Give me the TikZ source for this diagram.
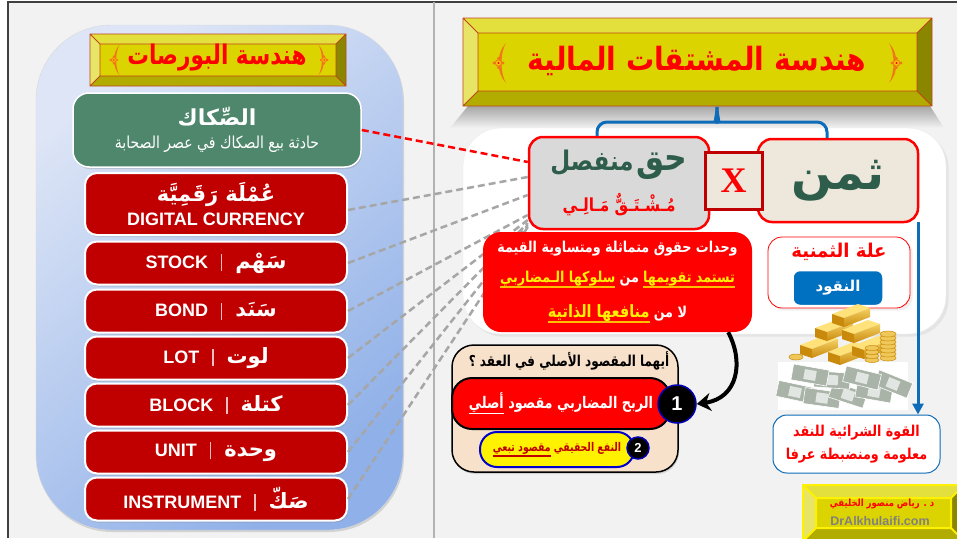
\documentclass[tikz,border=0pt]{standalone}
\usepackage{fontspec}
\setmainfont{Liberation Sans}
\newfontfamily\arabicfont[Script=Arabic]{DejaVu Sans}
\newfontfamily\serifx{Liberation Serif}
\TeXXeTstate=1
\usetikzlibrary{shadows,arrows.meta}

\definecolor{bggray}{HTML}{F2F2F2}
\definecolor{boxred}{HTML}{C00000}
\definecolor{sukukgreen}{HTML}{4F876C}
\definecolor{darkgreen}{HTML}{2E5E4B}
\definecolor{beige}{HTML}{EEE7DC}
\definecolor{haqgray}{HTML}{D9D9D9}
\definecolor{tan}{HTML}{F8E1CB}
\definecolor{linkblue}{HTML}{0E6CB8}
\definecolor{btnblue}{HTML}{0070C0}
\definecolor{ulorange}{HTML}{FFC000}
\definecolor{panelA}{HTML}{DDE5F6}
\definecolor{panelB}{HTML}{8FB0E8}
\definecolor{bevface}{HTML}{DCD400}
\definecolor{bevtop}{HTML}{E3DF3C}
\definecolor{bevleft}{HTML}{E8E466}
\definecolor{bevbot}{HTML}{B2AB00}
\definecolor{bevright}{HTML}{8A8600}
\definecolor{bevline}{HTML}{C0461E}
\definecolor{ornorange}{HTML}{F07818}
\definecolor{dashgray}{HTML}{A6A6A6}
\definecolor{goldA}{HTML}{FFE27A}
\definecolor{goldB}{HTML}{C98A0C}
\definecolor{billgreen}{HTML}{8C9A8A}

% arabic box (plain and narrowed), font size, underline, bar between the two names
\newcommand\ar[1]{\hbox{\arabicfont#1}}
\newcommand\arx[2]{\scalebox{#1}[1]{\ar{#2}}}
\newcommand\fs[1]{\fontsize{#1}{#1}\selectfont}
\newcommand\ul[3]{\setbox0\hbox{#3}\rlap{\color{#1}\rule[-#2]{\wd0}{1.8pt}}\box0}
\newcommand\barsep{\hspace{13pt}\textcolor{white!75!boxred}{\rule[-3pt]{1.3pt}{17pt}}\hspace{13pt}}

% framed yellow plate: x1,y1,x2,y2,inset,edge
\newcommand\bevel[6]{%
  \fill[bevtop] (#1,#2) -- (#3,#2) -- (#3-#5,#2+#5) -- (#1+#5,#2+#5) -- cycle;
  \fill[bevbot] (#1,#4) -- (#3,#4) -- (#3-#5,#4-#5) -- (#1+#5,#4-#5) -- cycle;
  \fill[bevleft] (#1,#2) -- (#1+#5,#2+#5) -- (#1+#5,#4-#5) -- (#1,#4) -- cycle;
  \fill[bevright] (#3,#2) -- (#3-#5,#2+#5) -- (#3-#5,#4-#5) -- (#3,#4) -- cycle;
  \fill[bevface] (#1+#5,#2+#5) rectangle (#3-#5,#4-#5);
  \draw[line width=0.8pt,#6] (#1,#2) rectangle (#3,#4) (#1+#5,#2+#5) rectangle (#3-#5,#4-#5)
    (#1,#2) -- (#1+#5,#2+#5) (#3,#2) -- (#3-#5,#2+#5) (#1,#4) -- (#1+#5,#4-#5) (#3,#4) -- (#3-#5,#4-#5);
}

\tikzset{
  ornament/.pic={
    \fill[ornorange] (6,-20) .. controls (-4,-10) and (-4,10) .. (6,20)
      .. controls (0,10) and (0,-10) .. (6,-20);
    \foreach \a in {0,90,180,270} \fill[ornorange] (-1.5,0) ++(\a:4.5) circle (1.6);
    \draw[ornorange, line width=0.9pt, fill=yellow!60!orange] (-1.5,0) circle (3.2);
    \fill[red] (-1.5,0) circle (1.1);
  }
}

\begin{document}
\begin{tikzpicture}[x=1pt, y=-1pt,
    softshadow/.style={drop shadow={opacity=0.28, shadow xshift=1pt, shadow yshift=-2pt}},
    redbox/.style={draw=white, line width=2pt, fill=boxred, rounded corners=12pt,
      minimum width=262pt, minimum height=43pt, text=white, font=\bfseries, softshadow},
    numdot/.style={circle, fill=black, draw=blue!70!black, line width=1.5pt, text=white, inner sep=0pt},
    link/.style={dashgray, line width=2.5pt, dash pattern=on 7pt off 4pt},
  ]
  \useasboundingbox (0,0) rectangle (957,538);
  \fill[white] (0,0) rectangle (957,538);
  \fill[bggray] (8,2) rectangle (957,538);
  \draw[black!75, line width=1.5pt] (8,538) -- (8,2) -- (957,2);
  \draw[black!30, line width=2pt] (434,2) -- (434,538);

  % left panel
  \shade[top color=panelA, bottom color=panelB, shading angle=40, draw=black!15,
    rounded corners=75pt, softshadow] (36,25) rectangle (403,530);
  \bevel{90}{34}{346}{86}{10}{draw=bevline}
  \node[text=red, font=\bfseries\fs{27}] (btitle) at (217,58) {\arx{.8}{\beginR هندسة البورصات\endR}};
  \pic[scale=.75] at (115,60) {ornament};
  \pic[scale=.75, xscale=-1] at (323,60) {ornament};

  \node[fill=sukukgreen, draw=white, line width=1.5pt, rounded corners=16pt, softshadow,
    minimum width=288pt, minimum height=74pt, text=white, align=center] (sukuk) at (217,130)
    {\bfseries\fs{22}\ar{\beginR الصِّكاك\endR}\\[9pt]\mdseries\fs{16.5}\arx{.85}{\beginR حادثة بيع الصكاك في عصر الصحابة\endR}};

  \node[redbox, minimum height=62pt, align=center] (digital) at (216,204)
    {\fs{21}\ar{\beginR عُمْلَة رَقَمِيَّة\endR}\\[5pt]\fs{18}DIGITAL CURRENCY};
  \node[redbox] (stock) at (216,263) {\fs{18}STOCK\barsep\ar{\fs{21}\beginR سَهْم\endR}};
  \node[redbox] (bond) at (216,311) {\fs{18}BOND\barsep\ar{\fs{21}\beginR سَنَد\endR}};
  \node[redbox] (lot) at (216,358) {\fs{18}LOT\barsep\ar{\fs{21}\beginR لوت\endR}};
  \node[redbox] (block) at (216,405) {\fs{18}BLOCK\barsep\ar{\fs{21}\beginR كتلة\endR}};
  \node[redbox] (unit) at (216,452) {\fs{18}UNIT\barsep\ar{\fs{21}\beginR وحدة\endR}};
  \node[redbox] (instr) at (216,499) {\fs{18}INSTRUMENT\barsep\ar{\fs{21}\beginR صَكّ\endR}};

  % right panel
  \shade[top color=black!35, bottom color=bggray] (468,106) -- (930,106) -- (944,128) -- (450,128) -- cycle;
  \filldraw[fill=white, draw=black!8, rounded corners=38pt, drop shadow={opacity=0.12}] (463,128) rectangle (946,334);
  \bevel{463}{18}{932}{106}{15}{draw=bevline}
  \node[text=red, font=\bfseries\fs{32}] (mtitle) at (697,61) {\arx{.88}{\beginR هندسة المشتقات المالية\endR}};
  \pic at (500,63) {ornament};
  \pic[xscale=-1] at (895,63) {ornament};
  \coordinate (brace) at (717,107);

  \node[fill=haqgray, draw=red, line width=2.5pt, rounded corners=14pt, minimum width=180pt,
    minimum height=92pt, align=center, font=\bfseries] (haq) at (619,183)
    {\color{darkgreen}\arx{.85}{\beginR{\fs{37}حق} \fs{27}منفصل\endR}\\[12pt]\color{red}\fs{18}\arx{.85}{\beginR مُـشْـتَـقٌّ مَـالِـي\endR}};
  \node[fill=beige, draw=red, line width=2.5pt, rounded corners=14pt, minimum width=160pt,
    minimum height=83pt, text=darkgreen, font=\bfseries\fs{48}] (thaman) at (838,180.5) {\ar{\beginR ثمن\endR}};
  \node[fill=beige, draw=boxred, line width=3pt, minimum size=57pt, inner sep=0pt,
    text=red, font=\serifx\bfseries\fs{36}] (times) at (733.5,180.5) {X};

  \draw[link] ([yshift=-6pt]digital.east) -- ([yshift=6pt]haq.west);
  \draw[link] (stock.east) -- ([yshift=-12pt]haq.west);
  \draw[link] (bond.east) -- ([yshift=-32pt]haq.west);
  \draw[link] (lot.east) -- ([yshift=-37pt]haq.west);
  \draw[link] (block.east) -- ([yshift=-40pt]haq.west);
  \draw[link] (unit.east) -- ([yshift=-42pt]haq.west);
  \draw[link] (instr.east) -- ([yshift=-44pt]haq.west);
  \draw[link, red] (sukuk.east) -- ([yshift=21pt]haq.west);

  \draw[linkblue, line width=3pt, rounded corners=10pt] ([xshift=-22pt]haq.north) |- (706,122)
    .. controls (714,122) and (717,116) .. (brace);
  \draw[linkblue, line width=3pt, rounded corners=10pt] (brace) .. controls (717,116) and (720,122) .. (728,122)
    -| ([xshift=-11pt]thaman.north);

  \node[draw=red, fill=white, line width=0.8pt, rounded corners=14pt, minimum width=142pt,
    minimum height=71pt, drop shadow={opacity=0.12}] (illa) at (839,272.5) {};
  \node[text=red, font=\bfseries\fs{19}] (illatxt) at (839,252) {\arx{.95}{\beginR علة الثمنية\endR}};
  \node[fill=btnblue, draw=white, line width=1.5pt, rounded corners=7pt, minimum width=90pt,
    minimum height=35pt, text=white, font=\bfseries\fs{15}] (nuqud) at (838,288) {\ar{\beginR النقود\endR}};

  % gold and notes
  \fill[white] (778,362) rectangle (908,410);
  \foreach \x/\y/\r in {795/392/-12, 822/398/-8, 848/395/-18, 874/392/-10, 893/384/-22,
      832/380/-4, 862/378/-14, 810/375/-10} {
    \filldraw[fill=billgreen!75, draw=white, line width=0.6pt, rotate around={\r:(\x,\y)}]
      (\x-18,\y-8) rectangle (\x+18,\y+8);
    \fill[white!75!billgreen, rotate around={\r:(\x,\y)}] (\x-6,\y-5) rectangle (\x+6,\y+5);
  }
  \foreach \x/\y in {800/345, 828/352, 852/346, 815/328, 842/330, 832/314} {
    \fill[goldA] (\x,\y) -- (\x+26,\y-10) -- (\x+38,\y-6) -- (\x+12,\y+4) -- cycle;
    \fill[goldB] (\x,\y) -- (\x+12,\y+4) -- (\x+12,\y+13) -- (\x,\y+9) -- cycle;
    \shade[top color=goldA!80!goldB, bottom color=goldB] (\x+12,\y+4) -- (\x+38,\y-6) -- (\x+38,\y+3) -- (\x+12,\y+13) -- cycle;
  }
  \foreach \k in {0,...,6} \filldraw[fill=goldA!70!goldB, draw=goldB, line width=0.5pt] (888,358-4*\k) ellipse (8 and 3);
  \foreach \k in {0,...,3} \filldraw[fill=goldA!70!goldB, draw=goldB, line width=0.5pt] (872,360-4*\k) ellipse (7 and 2.5);
  \filldraw[fill=goldA!70!goldB, draw=goldB, line width=0.5pt] (796,357) ellipse (7 and 3);

  \node[fill=white, draw=linkblue, line width=1pt, rounded corners=14pt, minimum width=167pt,
    minimum height=58pt, text=red, align=center, font=\bfseries\fs{15}] (quwwa) at (856.5,444)
    {\arx{.85}{\beginR القوة الشرائية للنقد\endR}\\[7pt]\arx{.85}{\beginR معلومة ومنضبطة عرفا\endR}};
  \coordinate (rail) at (918,222);
  \draw[linkblue, line width=3pt, -{Triangle[length=11pt, width=11pt]}] (rail) -- (rail |- quwwa.north);

  \node[fill=red, rounded corners=18pt, minimum width=269pt, minimum height=100pt, align=center,
    text=white, font=\bfseries\fs{15}] (info) at (617.5,282)
    {\arx{.85}{\beginR وحدات حقوق متماثلة ومتساوية القيمة\endR}\\[14pt]
     \ul{ulorange}{6pt}{\textcolor{yellow}{\arx{.85}{\beginR سلوكها الـمضاربي\endR}}}\ \arx{.85}{\beginR من\endR}\
     \ul{ulorange}{6pt}{\textcolor{yellow}{\arx{.85}{\beginR تستمد تقويمها\endR}}}\\[15pt]
     \ul{ulorange}{6pt}{\textcolor{yellow}{\arx{.85}{\fs{17}\beginR منافعها الذاتية\endR}}}\ \arx{.85}{\beginR لا من\endR}};

  \node[fill=tan, draw=black, line width=1.5pt, rounded corners=22pt, minimum width=226pt,
    minimum height=127pt, softshadow] (tanbox) at (565,408.5) {};
  \node[font=\bfseries\fs{15}] (ask) at (569,361) {\arx{.8}{\beginR أيهما المقصود الأصلي في العقد ؟\endR}};
  \node[fill=red, draw=black, line width=2pt, rounded corners=20pt, minimum width=218pt,
    minimum height=51pt, text=white, font=\bfseries\fs{16}] (ribh) at (561,403.5)
    {\ul{white}{6pt}{\arx{.8}{\beginR أصلي\endR}}\ \arx{.8}{\beginR الربح المضاربي مقصود\endR}};
  \node[numdot, minimum size=38pt, font=\bfseries\fs{20}] (one) at (677,404) {1};
  \node[fill=yellow, draw=blue!80!black, line width=2pt, rounded corners=17pt, minimum width=154pt,
    minimum height=35pt, text=boxred, font=\bfseries\fs{12}] (nafa) at (557,449.5)
    {\ul{boxred}{5pt}{\arx{.78}{\beginR مقصود تبعي\endR}}\ \arx{.78}{\beginR النفع الحقيقي\endR}};
  \node[numdot, minimum size=22pt, font=\bfseries\fs{13}] (two) at (638,448) {2};

  \draw[line width=4pt, -{Stealth[length=14pt, width=18pt]}] ([xshift=-24pt]info.south east)
    .. controls (744,362) and (738,398) .. (one.east);

  % name plate
  \bevel{803}{485}{964}{541}{13}{draw=yellow, line width=2pt}
  \node[text=red, font=\bfseries\fs{10}] (author) at (882,504) {\arx{.85}{\beginR د . رياض منصور الخليفي\endR}};
  \node[text=black!50, font=\bfseries\fs{12.5}] (site) at (880,521) {DrAlkhulaifi.com};
\end{tikzpicture}
\end{document}
